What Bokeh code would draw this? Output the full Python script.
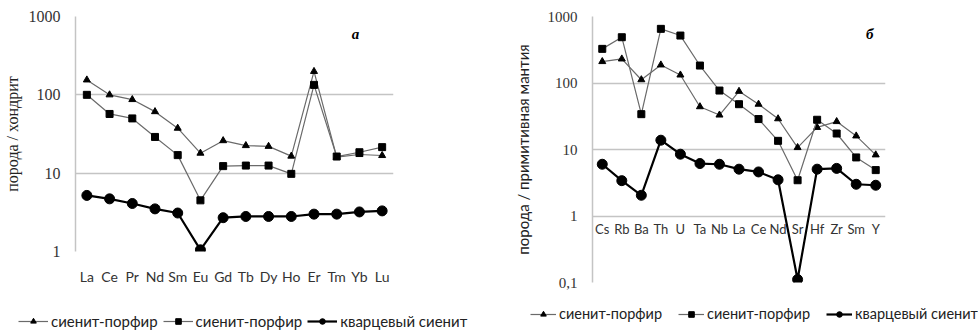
from bokeh.plotting import figure
from bokeh.layouts import row, column
from bokeh.models import (Range1d, FactorRange, FixedTicker, CustomJSTickFormatter,
                          Legend, LegendItem, ColumnDataSource)
from bokeh.core.properties import value
from bokeh.embed import file_html
from bokeh.resources import INLINE

# ---------------- data ----------------
ree_cats = ["La", "Ce", "Pr", "Nd", "Sm", "Eu", "Gd", "Tb", "Dy", "Ho", "Er", "Tm", "Yb", "Lu"]
ree_tri = [155, 100, 87, 61, 37.5, 18, 26, 22.5, 22, 16.5, 199, 16, 17.3, 16.8]
ree_sq = [100, 57, 50, 29, 17, 4.5, 12.3, 12.5, 12.5, 9.8, 134, 16.3, 18.5, 21.5]
ree_circ = [5.2, 4.7, 4.1, 3.5, 3.1, 1.05, 2.7, 2.8, 2.8, 2.8, 3.0, 3.0, 3.2, 3.3]

tr_cats = ["Cs", "Rb", "Ba", "Th", "U", "Ta", "Nb", "La", "Ce", "Nd", "Sr", "Hf", "Zr", "Sm", "Y"]
tr_tri = [210, 230, 112, 187, 132, 44, 33, 75, 48, 29, 10.7, 21.5, 26.3, 16, 8.3]
tr_sq = [326, 488, 34, 652, 517, 183, 77, 48, 28.7, 13.5, 3.45, 28, 17.4, 7.6, 4.9]
tr_circ = [6.0, 3.4, 2.05, 13.8, 8.5, 6.15, 6.0, 5.06, 4.6, 3.5, 0.111, 5.06, 5.2, 3.0, 2.9]

ticks_a = [1, 10, 100, 1000]
ticks_b = [0.1, 1, 10, 100, 1000]
series_names = ["сиенит-порфир", "сиенит-порфир", "кварцевый сиенит"]
ylabel_a = "порода / хондрит"
ylabel_b = "порода / примитивная мантия"
panel_a = "а"
panel_b = "б"

GRID = "#c4c4c4"
LINE = "#6a6a6a"
SANS = "Lato"
SERIF = "Liberation Serif"

fmt_js = "return tick < 1 ? tick.toString().replace('.', ',') : tick.toFixed(0);"
STYLES = [dict(line_color=LINE, line_width=1.2, marker="triangle", size=7),
          dict(line_color=LINE, line_width=1.2, marker="square", size=7),
          dict(line_color="black", line_width=2.2, marker="circle", size=10)]


def base_fig(cats, yr, ticks, w, h, mb_left, mb_right, mb_bottom, **kw):
    p = figure(width=w, height=h, x_range=FactorRange(factors=cats), y_range=yr,
               y_axis_type="log", output_backend="svg", toolbar_location=None,
               min_border_left=mb_left, min_border_right=mb_right,
               min_border_top=16, min_border_bottom=mb_bottom, **kw)
    p.outline_line_color = None
    p.xgrid.visible = False
    p.ygrid.ticker = FixedTicker(ticks=ticks)
    p.ygrid.grid_line_color = GRID
    p.ygrid.grid_line_width = 1.5
    p.yaxis.ticker = FixedTicker(ticks=ticks)
    p.yaxis.formatter = CustomJSTickFormatter(code=fmt_js)
    p.yaxis.axis_line_color = GRID
    p.yaxis.axis_line_width = 1.5
    p.yaxis.major_tick_line_color = None
    p.yaxis.minor_tick_line_color = None
    p.yaxis.major_tick_out = 0
    p.yaxis.major_tick_in = 0
    p.yaxis.minor_tick_out = 0
    p.yaxis.major_label_standoff = 15
    p.yaxis.major_label_text_color = "#333333"
    p.yaxis.axis_label_text_font_style = "normal"
    p.yaxis.axis_label_text_color = "#222222"
    return p


def add_series(p, cats, series):
    src = ColumnDataSource(dict(x=cats, s0=series[0], s1=series[1], s2=series[2]))
    for i, st in enumerate(STYLES):
        col = "s%d" % i
        p.line("x", col, source=src, line_color=st["line_color"], line_width=st["line_width"])
        p.scatter("x", col, source=src, marker=st["marker"], size=st["size"], color="black")


def add_panel_letter(p, cat, yv, xoff, txt):
    p.text(x=[cat], y=[yv], text=[txt], x_offset=xoff, text_font=value(SERIF),
           text_font_style="bold italic", text_font_size="15px",
           text_align="center", text_baseline="middle", text_color="black")


def legend_fig(w, h, loc, fs, spacing, gw):
    lf = figure(width=w, height=h, x_range=Range1d(0, 1), y_range=Range1d(0, 1),
                output_backend="svg", toolbar_location=None,
                x_axis_location=None, y_axis_location=None,
                min_border=0)
    lf.outline_line_color = None
    lf.grid.visible = False
    items = []
    for name, st in zip(series_names, STYLES):
        # one off-screen point only so the legend swatch has style values to draw with
        src = ColumnDataSource(dict(x=[-5], y=[-5]))
        r1 = lf.line("x", "y", source=src, line_color=st["line_color"], line_width=st["line_width"])
        r2 = lf.scatter("x", "y", source=src, marker=st["marker"], size=st["size"], color="black")
        items.append(LegendItem(label=name, renderers=[r1, r2]))
    lg = Legend(items=items, orientation="horizontal", location=loc,
                padding=0, margin=0, spacing=spacing, glyph_width=gw, glyph_height=14,
                label_height=14, label_standoff=3, border_line_color=None,
                background_fill_alpha=0, label_text_font=SANS,
                label_text_font_size=fs, label_text_color="#222222")
    lf.add_layout(lg, "center")
    return lf


# ---------------- figure a ----------------
pa = base_fig(ree_cats, Range1d(1, 1000), ticks_a, 478, 291, 75, 85, 40)
pa.yaxis.axis_label = ylabel_a
pa.yaxis.axis_label_text_font = SERIF
pa.yaxis.axis_label_text_font_size = "16px"
pa.yaxis.axis_label_standoff = 5
pa.yaxis.major_label_text_font = SERIF
pa.yaxis.major_label_text_font_size = "16px"
pa.xaxis.axis_line_color = None
pa.xaxis.major_tick_line_color = None
pa.xaxis.minor_tick_line_color = None
pa.xaxis.major_tick_out = 0
pa.xaxis.minor_tick_out = 0
pa.xaxis.major_label_standoff = 16
pa.xaxis.major_label_text_font = SANS
pa.xaxis.major_label_text_font_size = "14px"
pa.xaxis.major_label_text_color = "#333333"
add_series(pa, ree_cats, [ree_tri, ree_sq, ree_circ])
add_panel_letter(pa, "Yb", 605, -4, panel_a)
la = legend_fig(478, 39, (18, 0), "15px", 5, 30)

# ---------------- figure b ----------------
pb = base_fig(tr_cats, Range1d(0.1, 1000), ticks_b, 500, 290, 114, 93, 8,
              x_axis_location=None)
pb.yaxis.axis_label = ylabel_b
pb.yaxis.axis_label_text_font = SANS
pb.yaxis.axis_label_text_font_size = "15px"
pb.yaxis.axis_label_standoff = 13
pb.yaxis.major_label_text_font = SERIF
pb.yaxis.major_label_text_font_size = "15px"
add_series(pb, tr_cats, [tr_tri, tr_sq, tr_circ])
label_y = [0.637] * len(tr_cats)
pb.text(x=tr_cats, y=label_y, text=tr_cats, text_font=value(SANS), text_font_size="13px",
        text_align="center", text_baseline="middle", text_color="#333333")
add_panel_letter(pb, "Y", 555, -6, panel_b)
lb = legend_fig(500, 40, (52, 8), "14.5px", 16, 26)

layout = row(column(pa, row(la)), column(pb, row(lb)))
open("out.html", "w").write(file_html(layout, INLINE))
